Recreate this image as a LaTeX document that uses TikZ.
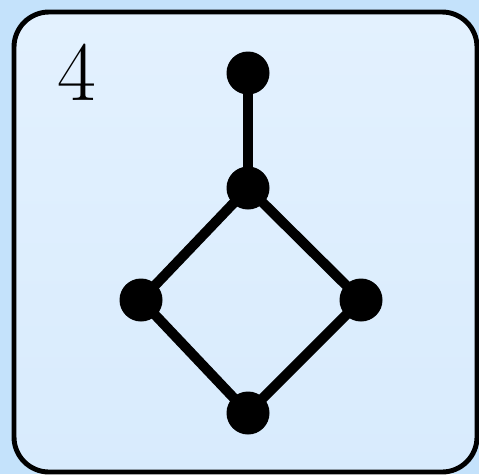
\documentclass[tikz,border=0pt]{standalone}
\usepackage{tikz}
\usetikzlibrary{
	positioning,
	calc
}
\definecolor{bgout}{HTML}{C4E2FB}
\definecolor{cardtop}{HTML}{E3F1FE}
\definecolor{cardbot}{HTML}{D8EBFD}
\tikzset{
	every picture/.style={
		line width=5.7pt,
	},
}
\tikzstyle{vertex} = [
	circle,
	fill=black,
	draw=none,
	inner sep=0mm,
	outer sep=0mm,
	minimum size=8.6mm
]
\tikzstyle{card} = [
	draw=black,
	line width=2.8pt,
	rounded corners=7mm,
	top color=cardtop,
	bottom color=cardbot
]

\begin{document}
\begin{tikzpicture}[x=0.2mm, y=-0.2mm]
	\fill[bgout] (0, 0) rectangle (479, 474);
	\useasboundingbox (0, 0) rectangle (479, 474);
	\draw[card] (14, 12) rectangle (477, 472);
	\node[inner sep=0mm] (num) at (77, 72) {\fontsize{48}{50}\selectfont 4};

	\foreach \n/\x/\y in {t/248/73, m/248/188, l/141/300, r/361/300, b/248/413}
		\node[vertex] (\n) at (\x, \y) {};

	\foreach \a/\b in {t/m, m/l, m/r, l/b, r/b}
		\draw (\a.center) -- (\b.center);
\end{tikzpicture}
\end{document}
